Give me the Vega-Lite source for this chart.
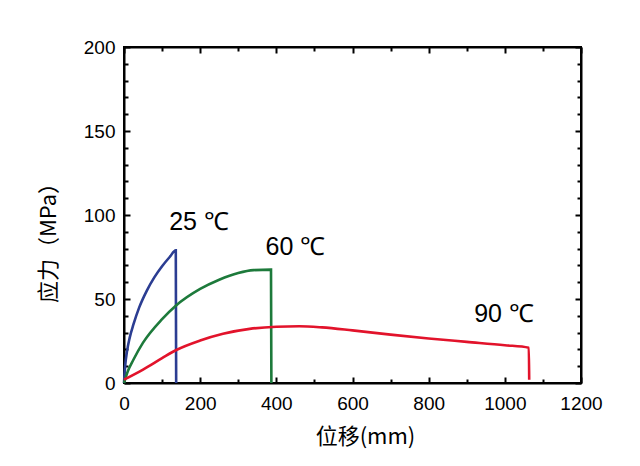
{
  "$schema": "https://vega.github.io/schema/vega-lite/v6.json",
  "width": 457,
  "height": 336,
  "autosize": "none",
  "padding": {"left": 124, "top": 47, "right": 59, "bottom": 83},
  "background": "white",
  "datasets": {
    "curves": [
      {"series": "25", "disp": 0, "stress": 0},
      {"series": "25", "disp": 3, "stress": 10},
      {"series": "25", "disp": 8, "stress": 19},
      {"series": "25", "disp": 15, "stress": 27},
      {"series": "25", "disp": 25, "stress": 35},
      {"series": "25", "disp": 40, "stress": 45},
      {"series": "25", "disp": 60, "stress": 55},
      {"series": "25", "disp": 80, "stress": 63},
      {"series": "25", "disp": 100, "stress": 69.5},
      {"series": "25", "disp": 120, "stress": 75},
      {"series": "25", "disp": 136, "stress": 79},
      {"series": "25", "disp": 137, "stress": 0},
      {"series": "60", "disp": 0, "stress": 0},
      {"series": "60", "disp": 10, "stress": 7},
      {"series": "60", "disp": 25, "stress": 14},
      {"series": "60", "disp": 50, "stress": 24},
      {"series": "60", "disp": 100, "stress": 38},
      {"series": "60", "disp": 136, "stress": 46},
      {"series": "60", "disp": 200, "stress": 56},
      {"series": "60", "disp": 250, "stress": 61.5},
      {"series": "60", "disp": 300, "stress": 65.5},
      {"series": "60", "disp": 340, "stress": 67.2},
      {"series": "60", "disp": 386, "stress": 67.5},
      {"series": "60", "disp": 387, "stress": 0},
      {"series": "90", "disp": 0, "stress": 2},
      {"series": "90", "disp": 50, "stress": 8},
      {"series": "90", "disp": 100, "stress": 14.8},
      {"series": "90", "disp": 136, "stress": 19.5},
      {"series": "90", "disp": 200, "stress": 25.3},
      {"series": "90", "disp": 260, "stress": 29.3},
      {"series": "90", "disp": 330, "stress": 32.2},
      {"series": "90", "disp": 400, "stress": 33.5},
      {"series": "90", "disp": 460, "stress": 33.8},
      {"series": "90", "disp": 520, "stress": 33.1},
      {"series": "90", "disp": 600, "stress": 31.3},
      {"series": "90", "disp": 700, "stress": 28.8},
      {"series": "90", "disp": 800, "stress": 26.5},
      {"series": "90", "disp": 900, "stress": 24.5},
      {"series": "90", "disp": 1000, "stress": 22.5},
      {"series": "90", "disp": 1063, "stress": 21},
      {"series": "90", "disp": 1064, "stress": 2}
    ],
    "labels": [
      {"disp": 197, "stress": 96, "label": "25 ℃"},
      {"disp": 450, "stress": 81, "label": "60 ℃"},
      {"disp": 998, "stress": 41, "label": "90 ℃"}
    ]
  },
  "config": {
    "view": {"stroke": "black", "strokeWidth": 2},
    "axis": {
      "grid": false,
      "domainColor": "black",
      "domainWidth": 2,
      "tickColor": "black",
      "tickWidth": 2,
      "labelColor": "black",
      "labelFont": "Liberation Sans",
      "labelFontSize": 19,
      "labelFlush": false,
      "titleColor": "black",
      "titleFont": "Noto Sans CJK SC",
      "titleFontSize": 22,
      "titleFontWeight": "normal"
    }
  },
  "resolve": {"axis": {"x": "independent", "y": "independent"}},
  "layer": [
    {
      "data": {"name": "curves"},
      "mark": {"type": "line", "strokeWidth": 2.6, "interpolate": "monotone"},
      "encoding": {
        "x": {
          "field": "disp", "type": "quantitative",
          "scale": {"domain": [0, 1200], "nice": false},
          "axis": {"orient": "bottom", "values": [0, 200, 400, 600, 800, 1000, 1200], "format": "d", "labelFlush": false, "tickSize": -6, "labelPadding": 17, "title": "位移(mm)", "titleX": 241, "titleY": 53, "titleBaseline": "middle", "titleAlign": "center"}
        },
        "y": {
          "field": "stress", "type": "quantitative",
          "scale": {"domain": [0, 200], "nice": false},
          "axis": {"orient": "left", "values": [0, 50, 100, 150, 200], "format": "d", "labelFlush": false, "tickSize": -6, "labelPadding": 15, "title": "应力（MPa）", "titleX": -76, "titleY": 190, "titleBaseline": "middle", "titleAlign": "center", "titleAngle": -90}
        },
        "color": {
          "field": "series", "type": "nominal",
          "scale": {"domain": ["25", "60", "90"], "range": ["#2b3d92", "#1d7a3b", "#e2132b"]},
          "legend": null
        }
      }
    },
    {
      "data": {"name": "labels"},
      "mark": {"type": "text", "font": "Liberation Sans", "fontSize": 25, "color": "black", "align": "center", "baseline": "middle"},
      "encoding": {
        "x": {"field": "disp", "type": "quantitative", "scale": {"domain": [0, 1200], "nice": false},
          "axis": {"orient": "bottom", "values": [100, 300, 500, 700, 900, 1100], "tickSize": -4, "labels": false, "title": null, "domain": false}},
        "y": {"field": "stress", "type": "quantitative", "scale": {"domain": [0, 200], "nice": false},
          "axis": {"orient": "left", "values": [10, 20, 30, 40, 60, 70, 80, 90, 110, 120, 130, 140, 160, 170, 180, 190], "tickSize": -4, "labels": false, "title": null, "domain": false}},
        "text": {"field": "label"}
      }
    },
    {
      "data": {"name": "curves"},
      "mark": {"type": "point", "opacity": 0},
      "encoding": {
        "x": {"field": "disp", "type": "quantitative", "scale": {"domain": [0, 1200], "nice": false},
          "axis": {"orient": "top", "values": [0, 200, 400, 600, 800, 1000, 1200], "tickSize": -6, "labels": false, "title": null}},
        "y": {"field": "stress", "type": "quantitative", "scale": {"domain": [0, 200], "nice": false},
          "axis": {"orient": "right", "values": [0, 50, 100, 150, 200], "tickSize": -6, "labels": false, "title": null}}
      }
    },
    {
      "data": {"name": "curves"},
      "mark": {"type": "point", "opacity": 0},
      "encoding": {
        "x": {"field": "disp", "type": "quantitative", "scale": {"domain": [0, 1200], "nice": false},
          "axis": {"orient": "top", "values": [100, 300, 500, 700, 900, 1100], "tickSize": -4, "labels": false, "title": null, "domain": false}},
        "y": {"field": "stress", "type": "quantitative", "scale": {"domain": [0, 200], "nice": false},
          "axis": {"orient": "right", "values": [10, 20, 30, 40, 60, 70, 80, 90, 110, 120, 130, 140, 160, 170, 180, 190], "tickSize": -4, "labels": false, "title": null, "domain": false}}
      }
    }
  ]
}
